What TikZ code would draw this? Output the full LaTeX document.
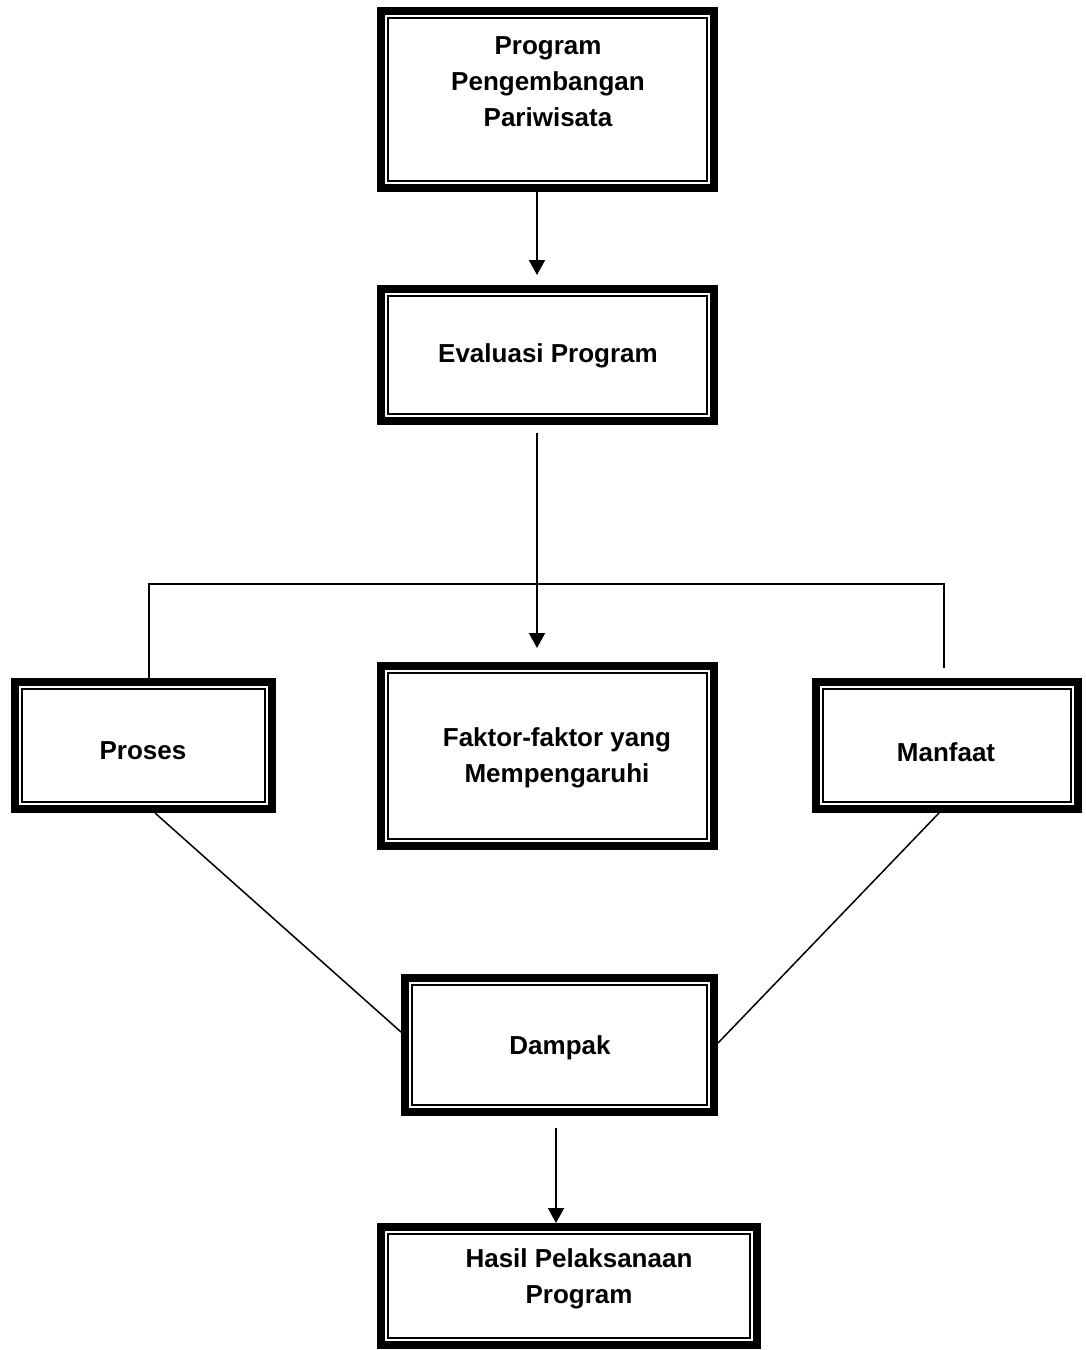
\documentclass[tikz,border=0pt]{standalone}
\usepackage{fontspec}
\setmainfont{Liberation Sans}
\usetikzlibrary{arrows.meta}
\begin{document}
\begin{tikzpicture}[x=1pt,y=-1pt,
  box/.style={draw, line width=8pt, inner sep=0pt, minimum width=#1},
  txt/.style={font=\fontsize{26}{36}\selectfont\bfseries, align=center, inner sep=0pt},
  arr/.style={line width=2pt, -{Triangle[length=15pt,width=16pt]}},
  conn/.style={line width=1.5pt}]
\useasboundingbox (0,0) rectangle (1085,1350);
% boxes
\node[box=333pt, minimum height=177pt] (prog) at (547.5,99.5) {};
\node[box=333pt, minimum height=132pt] (eval) at (547.5,355) {};
\node[box=257pt, minimum height=127pt] (pro) at (143.5,745.5) {};
\node[box=333pt, minimum height=180pt] (fak) at (547.5,756) {};
\node[box=262pt, minimum height=127pt] (man) at (947,745.5) {};
\node[box=309pt, minimum height=134pt] (dam) at (559.5,1045) {};
\node[box=376pt, minimum height=118pt] (has) at (569,1286) {};
\foreach \n in {prog,eval,pro,fak,man,dam,has}
  \draw[line width=1.5pt] ([xshift=11pt,yshift=-11pt]\n.north west) rectangle ([xshift=-11pt,yshift=11pt]\n.south east);
% texts
\node[txt] (t1) at (548,82) {Program\\Pengembangan\\Pariwisata};
\node[txt] (t2) at (548,356) {Evaluasi Program};
\node[txt] (t3) at (143,751) {Proses};
\node[txt] (t4) at (557,758) {Faktor-faktor yang\\Mempengaruhi};
\node[txt] (t5) at (946,752) {Manfaat};
\node[txt] (t6) at (560,1048) {Dampak};
\node[txt] (t7) at (579,1279) {Hasil Pelaksanaan\\Program};
% connectors
\coordinate (bar) at (547,584);
\draw[arr, shorten >=10pt] ([xshift=-10.5pt]prog.south) -- ([xshift=-10.5pt]eval.north);
\draw[arr, shorten <=8pt, shorten >=14pt] ([xshift=-10.5pt]eval.south) -- ([xshift=-10.5pt]fak.north);
\draw[conn] ([xshift=5.5pt]pro.north) |- (bar) -| ([xshift=-3pt,yshift=10pt]man.north);
\draw[conn] ([xshift=11.5pt]pro.south) -- ([yshift=13pt]dam.west);
\draw[conn] ([xshift=-8pt]man.south) -- ([yshift=2pt]dam.east);
\draw[arr] ([xshift=-3.5pt,yshift=-12pt]dam.south) -- ([xshift=-3.5pt]dam.south |- has.north);
\end{tikzpicture}
\end{document}
